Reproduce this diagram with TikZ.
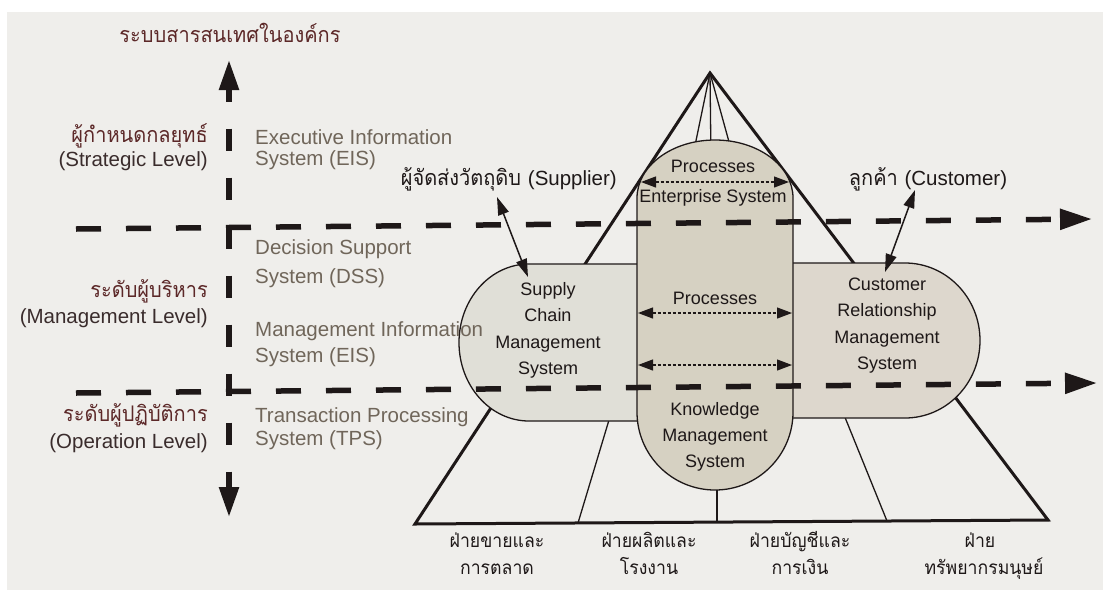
\documentclass[tikz,border=0pt]{standalone}
\usepackage{fontspec}
\setmainfont{Liberation Sans}
\newfontfamily\thaifont[Script=Thai,FakeStretch=0.93]{Loma}
\usetikzlibrary{arrows.meta}

\definecolor{paper}{RGB}{239,238,235}
\definecolor{ink}{RGB}{30,24,24}
\definecolor{maroon}{RGB}{92,40,40}
\definecolor{levelink}{RGB}{58,44,44}
\definecolor{sysink}{RGB}{112,102,90}
\definecolor{esfill}{RGB}{214,209,194}
\definecolor{scmfill}{RGB}{224,223,215}
\definecolor{crmfill}{RGB}{221,215,205}

\begin{document}
\begin{tikzpicture}[x=1pt,y=-1pt]
  \tikzstyle{entext}=[inner sep=0pt,font=\fontsize{20.5}{24}\selectfont]
  \tikzstyle{thtext}=[inner sep=0pt,font=\fontsize{21.5}{24}\selectfont\thaifont]
  \tikzstyle{levelen}=[entext,anchor=mid east,text=levelink]
  \tikzstyle{levelth}=[thtext,anchor=mid east,text=maroon]
  \tikzstyle{sysname}=[entext,anchor=mid west,text=sysink]
  \tikzstyle{boxtext}=[inner sep=0pt,anchor=mid,text=ink,font=\fontsize{18}{20}\selectfont]
  \tikzstyle{dept}=[inner sep=0pt,anchor=mid,text=ink,font=\fontsize{19}{20}\selectfont\thaifont]
  \tikzstyle{pyramid}=[draw=ink,line width=3pt]
  \tikzstyle{divider}=[draw=ink,line width=1.3pt]
  \tikzstyle{sysbox}=[draw=ink,line width=1.3pt]
  \tikzstyle{levelline}=[draw=ink,line width=5.5pt,dash pattern=on 25pt off 25pt,
                         -{Triangle[length=32pt,width=20pt]}]
  \tikzstyle{levelaxis}=[draw=ink,line width=5.5pt,dash pattern=on 22pt off 27pt,dash phase=9pt,
                         {Triangle[length=30pt,width=19pt]}-{Triangle[length=30pt,width=19pt]}]
  \tikzstyle{flow}=[draw=ink,line width=1.2pt,dash pattern=on 3pt off 2pt,
                    {Triangle[length=15pt,width=11pt]}-{Triangle[length=15pt,width=11pt]}]
  \tikzstyle{link}=[draw=ink,line width=1.5pt,
                    {Triangle[length=18pt,width=11pt]}-{Triangle[length=18pt,width=11pt]}]

  \useasboundingbox (0,0) rectangle (1103,590);
  \fill[white] (0,0) rectangle (1103,590);
  \fill[paper] (7,12) rectangle (1103,590);

  % pyramid of departments
  \coordinate (apex) at (710,73);
  \coordinate (baseL) at (415,524);
  \coordinate (baseR) at (1048,520);
  \draw[pyramid] (apex) -- (baseL) -- (baseR) -- cycle;
  \foreach \x in {692,711,734}
    \draw[divider] (apex) -- (\x,160);
  \draw[divider] (612,410) -- (578,523);
  \draw[divider] (717,480) -- (717,522);
  \draw[divider] (840,405) -- (887,521);

  % supply chain, customer relationship, enterprise system
  \draw[sysbox,fill=scmfill] (660,264) -- (529,264)
    arc[start angle=270,end angle=90,x radius=70,y radius=78.5] -- (660,421) -- cycle;
  \draw[sysbox,fill=crmfill] (770,263) -- (905,263)
    arc[start angle=270,end angle=450,x radius=75,y radius=77.5] -- (770,418) -- cycle;
  \draw[sysbox,fill=esfill] (637,412) -- (637,198)
    arc[start angle=180,end angle=360,x radius=78,y radius=58] -- (793,412)
    arc[start angle=0,end angle=180,radius=78] -- cycle;

  % level boundaries
  \coordinate (upper-start) at (76,229);
  \coordinate (upper-end) at (1092,219);
  \coordinate (lower-start) at (76,393);
  \coordinate (lower-end) at (1097,383);
  \coordinate (axis-top) at (229,60);
  \coordinate (axis-bottom) at (229,517);
  \draw[levelline] (upper-start) -- (upper-end);
  \draw[levelline] (lower-start) -- (lower-end);
  \draw[levelaxis] (axis-top) -- (axis-bottom);

  % processes inside the enterprise system
  \coordinate (es-l1) at (641,182);  \coordinate (es-r1) at (789,182);
  \coordinate (es-l2) at (638,313);  \coordinate (es-r2) at (792,313);
  \coordinate (es-l3) at (638,365);  \coordinate (es-r3) at (792,365);
  \draw[flow] (es-l1) -- (es-r1);
  \draw[flow] (es-l2) -- (es-r2);
  \draw[flow] (es-l3) -- (es-r3);

  % supplier and customer
  \node[thtext,anchor=mid east,text=ink] (supplier) at (617,183)
    {ผู้จัดส่งวัตถุดิบ {\fontspec{Liberation Sans}\fontsize{20.5}{24}\selectfont(Supplier)}};
  \node[thtext,anchor=mid,text=ink] (customer) at (928,183)
    {ลูกค้า {\fontspec{Liberation Sans}\fontsize{20.5}{24}\selectfont(Customer)}};
  \coordinate (supplier-tip) at (497,197);
  \coordinate (scm-tip) at (528,277);
  \coordinate (customer-tip) at (915,190);
  \coordinate (crm-tip) at (885,272);
  \draw[link] (supplier-tip) -- (scm-tip);
  \draw[link] (customer-tip) -- (crm-tip);

  % title and levels
  \node[thtext,anchor=mid,text=maroon] (infosys) at (230,40) {ระบบสารสนเทศในองค์กร};
  \node[levelth] (strategic) at (208,140) {ผู้กำหนดกลยุทธ์};
  \node[levelen] (strategic-en) at (208,164) {(Strategic Level)};
  \node[levelth] (management) at (208,295) {ระดับผู้บริหาร};
  \node[levelen] (management-en) at (208,321) {(Management Level)};
  \node[levelth] (operation) at (208,419) {ระดับผู้ปฏิบัติการ};
  \node[levelen] (operation-en) at (208,446) {(Operation Level)};

  \node[sysname] (eis) at (255,142) {Executive Information};
  \node[sysname] (eis-2) at (255,163) {System (EIS)};
  \node[sysname] (dss) at (255,252) {Decision Support};
  \node[sysname] (dss-2) at (255,281) {System (DSS)};
  \node[sysname] (mis) at (255,334) {Management Information};
  \node[sysname] (mis-2) at (255,360) {System (EIS)};
  \node[sysname] (tps) at (255,420) {Transaction Processing};
  \node[sysname] (tps-2) at (255,443) {System (TPS)};

  % box labels
  \node[boxtext] (es-proc) at (713,170) {Processes};
  \node[boxtext] (es-name) at (713,200) {Enterprise System};
  \node[boxtext] (es-proc2) at (715,302) {Processes};
  \foreach \t [count=\i] in {Supply,Chain,Management,System}
    \node[boxtext] (scm-\i) at (548,266+26.5*\i) {\t};
  \foreach \t [count=\i] in {Customer,Relationship,Management,System}
    \node[boxtext] (crm-\i) at (887,261+26.5*\i) {\t};
  \foreach \t [count=\i] in {Knowledge,Management,System}
    \node[boxtext] (kms-\i) at (715,387+26*\i) {\t};

  % departments
  \node[dept] (sales) at (497,545) {ฝ่ายขายและ};
  \node[dept] (sales-2) at (497,572) {การตลาด};
  \node[dept] (prod) at (649,545) {ฝ่ายผลิตและ};
  \node[dept] (prod-2) at (649,572) {โรงงาน};
  \node[dept] (acct) at (800,545) {ฝ่ายบัญชีและ};
  \node[dept] (acct-2) at (800,572) {การเงิน};
  \node[dept] (hr) at (980,545) {ฝ่าย};
  \node[dept] (hr-2) at (984,572) {ทรัพยากรมนุษย์};
\end{tikzpicture}
\end{document}
